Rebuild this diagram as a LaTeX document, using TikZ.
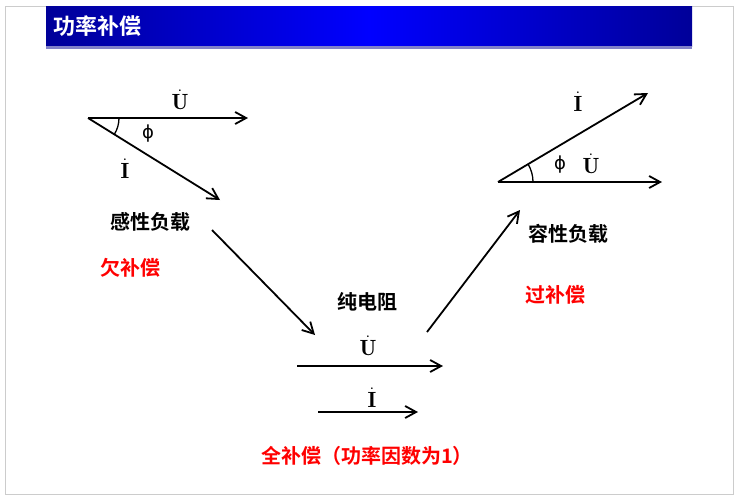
\documentclass[tikz,border=0pt]{standalone}
\usepackage{fontspec}
\newfontfamily\cjk{Noto Sans CJK SC}[BoldFont={Noto Sans CJK SC Bold}]
\newfontfamily\dv{DejaVu Sans}
\usetikzlibrary{arrows.meta}
\begin{document}
\begin{tikzpicture}[x=1pt,y=-1pt,
  vec/.style={-{Straight Barb[length=11pt,width=12pt]},line width=1.8pt},
  lbl/.style={font=\cjk\bfseries\fontsize{20}{20}\selectfont},
  sym/.style={font=\fontsize{22}{22}\selectfont\bfseries},
  phs/.style={font=\dv\fontsize{18}{18}\selectfont}]
\useasboundingbox (0,0) rectangle (738,499);
\draw[gray!40] (5,6) rectangle (733,494);
\shade[left color=blue!60!black, right color=blue!60!black, middle color=blue] (46,6) rectangle (692,46);
\fill[blue!40!gray!70] (46,46) rectangle (692,49);
\node[anchor=west,text=white,font=\cjk\bfseries\fontsize{22}{22}\selectfont] (title) at (50,26) {功率补偿};
% left
\coordinate (o1) at (88,118);
\coordinate (u1) at (248,118);
\coordinate (i1) at (220,200);
\draw[vec] (o1) -- (u1);
\draw[vec] (o1) -- (i1);
\draw[line width=1.3pt] (119,118) arc[start angle=0,end angle=32,radius=31];
\node[sym] (lu1) at (180,100) {$\dot{\mathbf U}$};
\node[sym] (li1) at (125,169) {$\dot{\mathbf I}$};
\node[phs] (lp1) at (148,134) {ϕ};
\node[lbl] (gx) at (150,222) {感性负载};
\node[lbl,text=red] (qb) at (130,268) {欠补偿};
% middle
\coordinate (a1s) at (212,230);
\coordinate (a1e) at (315,335);
\draw[vec] (a1s) -- (a1e);
\node[lbl] (cd) at (367,302) {纯电阻};
\coordinate (u2s) at (297,366);
\coordinate (u2e) at (443,366);
\draw[vec] (u2s) -- (u2e);
\node[sym] (lu2) at (368,346) {$\dot{\mathbf U}$};
\coordinate (i2s) at (318,412);
\coordinate (i2e) at (418,412);
\draw[vec] (i2s) -- (i2e);
\node[sym] (li2) at (372,398) {$\dot{\mathbf I}$};
\node[lbl,text=red] (qb2) at (367,456) {全补偿（功率因数为1）};
\coordinate (a2s) at (427,332);
\coordinate (a2e) at (520,210);
\draw[vec] (a2s) -- (a2e);
% right
\coordinate (o3) at (498,182);
\coordinate (u3) at (662,182);
\coordinate (i3) at (648,93);
\draw[vec] (o3) -- (u3);
\draw[vec] (o3) -- (i3);
\draw[line width=1.3pt] (533,182) arc[start angle=0,end angle=-31,radius=35];
\node[sym] (li3) at (578,102) {$\dot{\mathbf I}$};
\node[phs] (lp3) at (560,165) {ϕ};
\node[sym] (lu3) at (591,164) {$\dot{\mathbf U}$};
\node[lbl] (rx) at (568,234) {容性负载};
\node[lbl,text=red] (gb) at (555,295) {过补偿};
\end{tikzpicture}
\end{document}
